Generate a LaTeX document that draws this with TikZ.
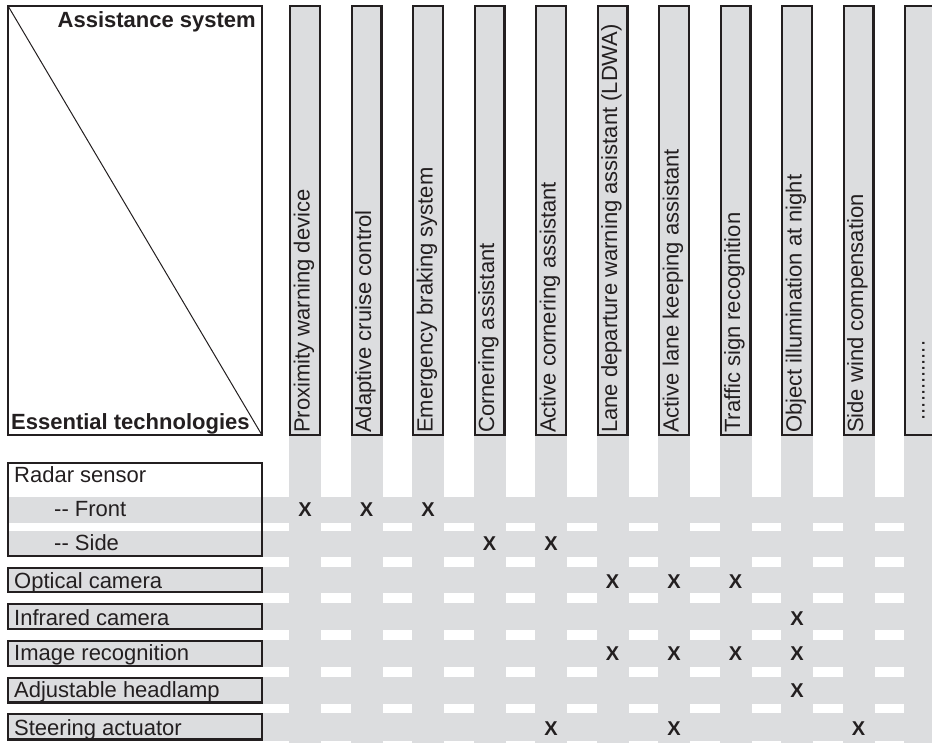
\documentclass[tikz,border=0pt]{standalone}
\usepackage{fontspec}
\setmainfont{Liberation Sans}
\definecolor{cellgrey}{RGB}{220,221,223}
\definecolor{ink}{RGB}{35,31,32}
\begin{document}
\begin{tikzpicture}[x=1pt,y=-1pt,
  frame/.style={draw=ink,line width=2.4pt},
  rowtxt/.style={font=\fontsize{22}{26}\selectfont,text=ink,inner sep=0pt,anchor=base west},
  coltxt/.style={rowtxt,rotate=90},
  headtxt/.style={font=\fontsize{22}{26}\selectfont\bfseries,text=ink,inner sep=0pt},
  xmark/.style={font=\fontsize{20}{24}\selectfont\bfseries,text=ink,inner sep=0pt,anchor=base}
]
\useasboundingbox (0,0) rectangle (932,742);
\begin{scope}
\clip (0,0) rectangle (932,742);

% grey row bands (Front, Side, Optical, Infrared, Image, Headlamp, Steering)
\foreach \t/\b in {497/523,531/557,566.5/593,603/630,640/667,676.5/703.5,713/740.5}
  \fill[cellgrey] (7,\t) rectangle (940,\b);

% grey column strips below the header boxes
\foreach \L in {289,350.5,412,473.5,535,596.5,658,719.5,781,842.5,904}
  \fill[cellgrey] (\L,435) rectangle ++(32,310);

% corner box with diagonal
\draw[frame] (8.2,6.2) rectangle (261.8,434.8);
\draw[ink,line width=1pt] (8.2,6.2) -- (261.8,434.8);
\node[headtxt,anchor=base east] (hsys) at (256,27) {Assistance system};
\node[headtxt,anchor=base west] (htech) at (11,429) {Essential technologies};

% technology boxes
\draw[frame] (8.2,463.2) rectangle (261.8,555.8);
\foreach \t/\b in {566.5/593,603/630,640/667,676.5/703.5,713/740.5}
  \draw[frame,fill=cellgrey] (8.2,\t+1.2) rectangle (261.8,\b-1.2);

\node[rowtxt] (radar) at (14,482) {Radar sensor};
\node[rowtxt] (front) at (54,516.7) {-{}- Front};
\node[rowtxt] (side)  at (54,550) {-{}- Side};
\node[rowtxt] (optic) at (14,588.3) {Optical camera};
\node[rowtxt] (infra) at (14,625) {Infrared camera};
\node[rowtxt] (image) at (14,660.7) {Image recognition};
\node[rowtxt] (lamp)  at (14,697.7) {Adjustable headlamp};
\node[rowtxt] (steer) at (14,735) {Steering actuator};

% assistance system header boxes
\foreach \L/\w/\txt [count=\i] in {
  289/29.6/{Proximity warning device},
  350.5/29.6/{Adaptive cruise control},
  412/29.6/{Emergency braking system},
  473.5/29.6/{Cornering assistant},
  535/29.6/{Active cornering assistant},
  596.5/29.6/{Lane departure warning assistant (LDWA)},
  658/29.6/{Active lane keeping assistant},
  719.5/29.6/{Traffic sign recognition},
  781/29.6/{Object illumination at night},
  842.5/29.6/{Side wind compensation},
  904/40/{}}
{
  \draw[frame,fill=cellgrey] (\L+1.2,6.2) rectangle ++(\w,428.6);
  \node[coltxt] (sys\i) at (\L+20.5,433) {\txt};
}
\node[coltxt] (more) at (904+20.5,420.5) {.............};

% assignment marks: row baseline / column left edge
\foreach \y/\L in {
  516.7/289, 516.7/350.5, 516.7/412,
  550/473.5, 550/535,
  588.3/596.5, 588.3/658, 588.3/719.5,
  625/781,
  660.7/596.5, 660.7/658, 660.7/719.5, 660.7/781,
  697.7/781,
  735/535, 735/658, 735/842.5}
  \node[xmark] (m-\y-\L) at (\L+16,\y) {X};
\end{scope}
\end{tikzpicture}
\end{document}
